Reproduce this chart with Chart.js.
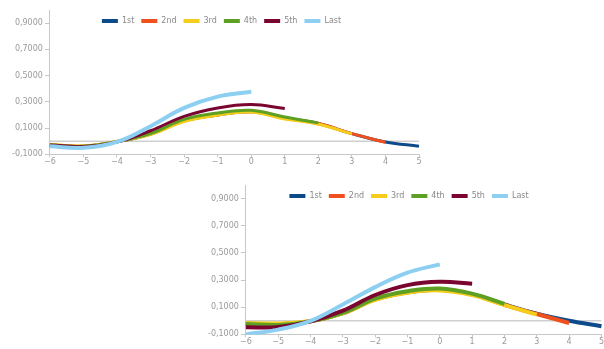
<!DOCTYPE html>
<html>
<head>
<meta charset="utf-8">
<script src="https://cdn.jsdelivr.net/npm/chart.js@4"></script>
<style>
  body { margin: 0; background: #fff; width: 604px; height: 349px; position: relative; overflow: hidden; }
  .box { position: absolute; }
  #top { left: 0; top: 0; width: 428px; height: 167px; }
  #bottom { left: 198px; top: 175px; width: 406px; height: 172px; }
</style>
</head>
<body>
<div class="box" id="top"><canvas id="chartTop"></canvas></div>
<div class="box" id="bottom"><canvas id="chartBottom"></canvas></div>
<script>
const xLabels = [-6, -5, -4, -3, -2, -1, 0, 1, 2, 3, 4, 5];
const yTicks = [-0.1, 0.1, 0.3, 0.5, 0.7, 0.9];
const seriesNames = ['1st', '2nd', '3rd', '4th', '5th', 'Last'];
const colores = ['#0c4a8a', '#f0501e', '#f5cd1a', '#5ea023', '#7a0530', '#8ccff0'];

// grafico de arriba
const top1st  = [-0.028, -0.038, -0.003, 0.055, 0.155, 0.200, 0.225, 0.175, 0.135, 0.058, -0.005, -0.038];
const top2nd  = [-0.027, -0.037, -0.002, 0.055, 0.155, 0.200, 0.225, 0.175, 0.135, 0.058, -0.008];
const top3rd  = [-0.025, -0.035, 0.000, 0.052, 0.150, 0.198, 0.223, 0.170, 0.130, 0.056];
const top4th  = [-0.028, -0.038, -0.003, 0.058, 0.167, 0.215, 0.236, 0.185, 0.140];
const top5th  = [-0.028, -0.040, -0.005, 0.080, 0.190, 0.254, 0.280, 0.250];
const topLast = [-0.038, -0.050, -0.005, 0.115, 0.254, 0.340, 0.377];

// grafico de abajo
const bot1st  = [-0.020, -0.025, -0.003, 0.056, 0.158, 0.210, 0.228, 0.195, 0.120, 0.052, 0.000, -0.040];
const bot2nd  = [-0.020, -0.025, -0.003, 0.056, 0.158, 0.210, 0.228, 0.193, 0.118, 0.050, -0.016];
const bot3rd  = [-0.016, -0.020, -0.002, 0.055, 0.155, 0.207, 0.224, 0.190, 0.115, 0.046];
const bot4th  = [-0.024, -0.030, -0.004, 0.058, 0.164, 0.218, 0.238, 0.200, 0.125];
const bot5th  = [-0.048, -0.046, -0.004, 0.075, 0.190, 0.263, 0.287, 0.273];
const botLast = [-0.100, -0.065, 0.000, 0.120, 0.248, 0.354, 0.416];

const zeroLine = {
    id: 'zeroLine',
    beforeDatasetsDraw(chart) {
        const y = chart.scales.y.getPixelForValue(0);
        const area = chart.chartArea;
        const ctx = chart.ctx;
        ctx.save();
        ctx.strokeStyle = '#cfcfcf';
        ctx.lineWidth = 1.5;
        ctx.beginPath();
        ctx.moveTo(area.left, y);
        ctx.lineTo(area.right, y);
        ctx.stroke();
        ctx.restore();
    }
};

// la leyenda va encima del area del grafico, sin ocupar espacio
function leyendaEncima(dx) {
    return {
        id: 'leyendaEncima',
        beforeLayout(chart) {
            const legend = chart.legend;
            if (legend && !legend._parcheado) {
                const fitOriginal = legend.fit;
                legend.fit = function () {
                    fitOriginal.call(this);
                    this._altoReal = this.height;
                    this.height = 0;
                };
                legend._parcheado = true;
            }
        },
        afterLayout(chart) {
            const legend = chart.legend;
            legend.left += dx;
            legend.right += dx;
            legend.height = legend._altoReal;
            legend.bottom = legend.top + legend._altoReal;
        }
    };
}

function crearGrafico(id, series, anchos, dx, pad) {
    const ctx = document.getElementById(id).getContext('2d');
    return new Chart(ctx, {
        type: 'line',
        data: {
            labels: xLabels,
            datasets: series.map((valores, i) => ({
                label: seriesNames[i],
                data: valores,
                borderColor: colores[i],
                backgroundColor: colores[i],
                borderWidth: anchos[i],
                pointRadius: 0,
                tension: 0.4,
                fill: false,
                order: series.length - 1 - i
            }))
        },
        options: {
            responsive: true,
            maintainAspectRatio: false,
            animation: false,
            layout: { padding: pad },
            plugins: {
                tooltip: { enabled: false },
                legend: {
                    position: 'top',
                    reverse: true,
                    labels: {
                        boxWidth: 16,
                        boxHeight: 4,
                        padding: 7,
                        color: '#888',
                        font: { family: 'DejaVu Sans', size: 8 },
                        generateLabels: (chart) => Chart.defaults.plugins.legend.labels.generateLabels(chart)
                            .map(l => ({ ...l, lineWidth: 0 }))
                    }
                }
            },
            scales: {
                x: {
                    grid: { drawOnChartArea: false, drawTicks: true, tickLength: 3, color: '#c8c8c8' },
                    border: { color: '#c8c8c8' },
                    ticks: {
                        color: '#999',
                        padding: 0,
                        maxRotation: 0,
                        font: { family: 'DejaVu Sans', size: 8 },
                        callback: (v, i) => String(xLabels[i]).replace('-', '\u2212')
                    }
                },
                y: {
                    min: -0.1,
                    max: 1.0,
                    afterBuildTicks: (axis) => { axis.ticks = yTicks.map(v => ({ value: v })); },
                    grid: { drawOnChartArea: false, drawTicks: true, tickLength: 5, color: '#c8c8c8' },
                    border: { color: '#c8c8c8' },
                    ticks: {
                        color: '#999',
                        padding: 2,
                        font: { family: 'DejaVu Sans', size: 8 },
                        callback: (v) => v.toFixed(4).replace('.', ',')
                    }
                }
            }
        },
        plugins: [zeroLine, leyendaEncima(dx)]
    });
}

crearGrafico('chartTop', [top1st, top2nd, top3rd, top4th, top5th, topLast], [3, 3, 3, 3, 3, 4], 7,
    { top: 10, right: 9, left: 10, bottom: 0 });
crearGrafico('chartBottom', [bot1st, bot2nd, bot3rd, bot4th, bot5th, botLast], [4, 4, 4, 4, 4, 4], 5,
    { top: 10, right: 2, left: 8, bottom: 0 });
</script>
</body>
</html>
